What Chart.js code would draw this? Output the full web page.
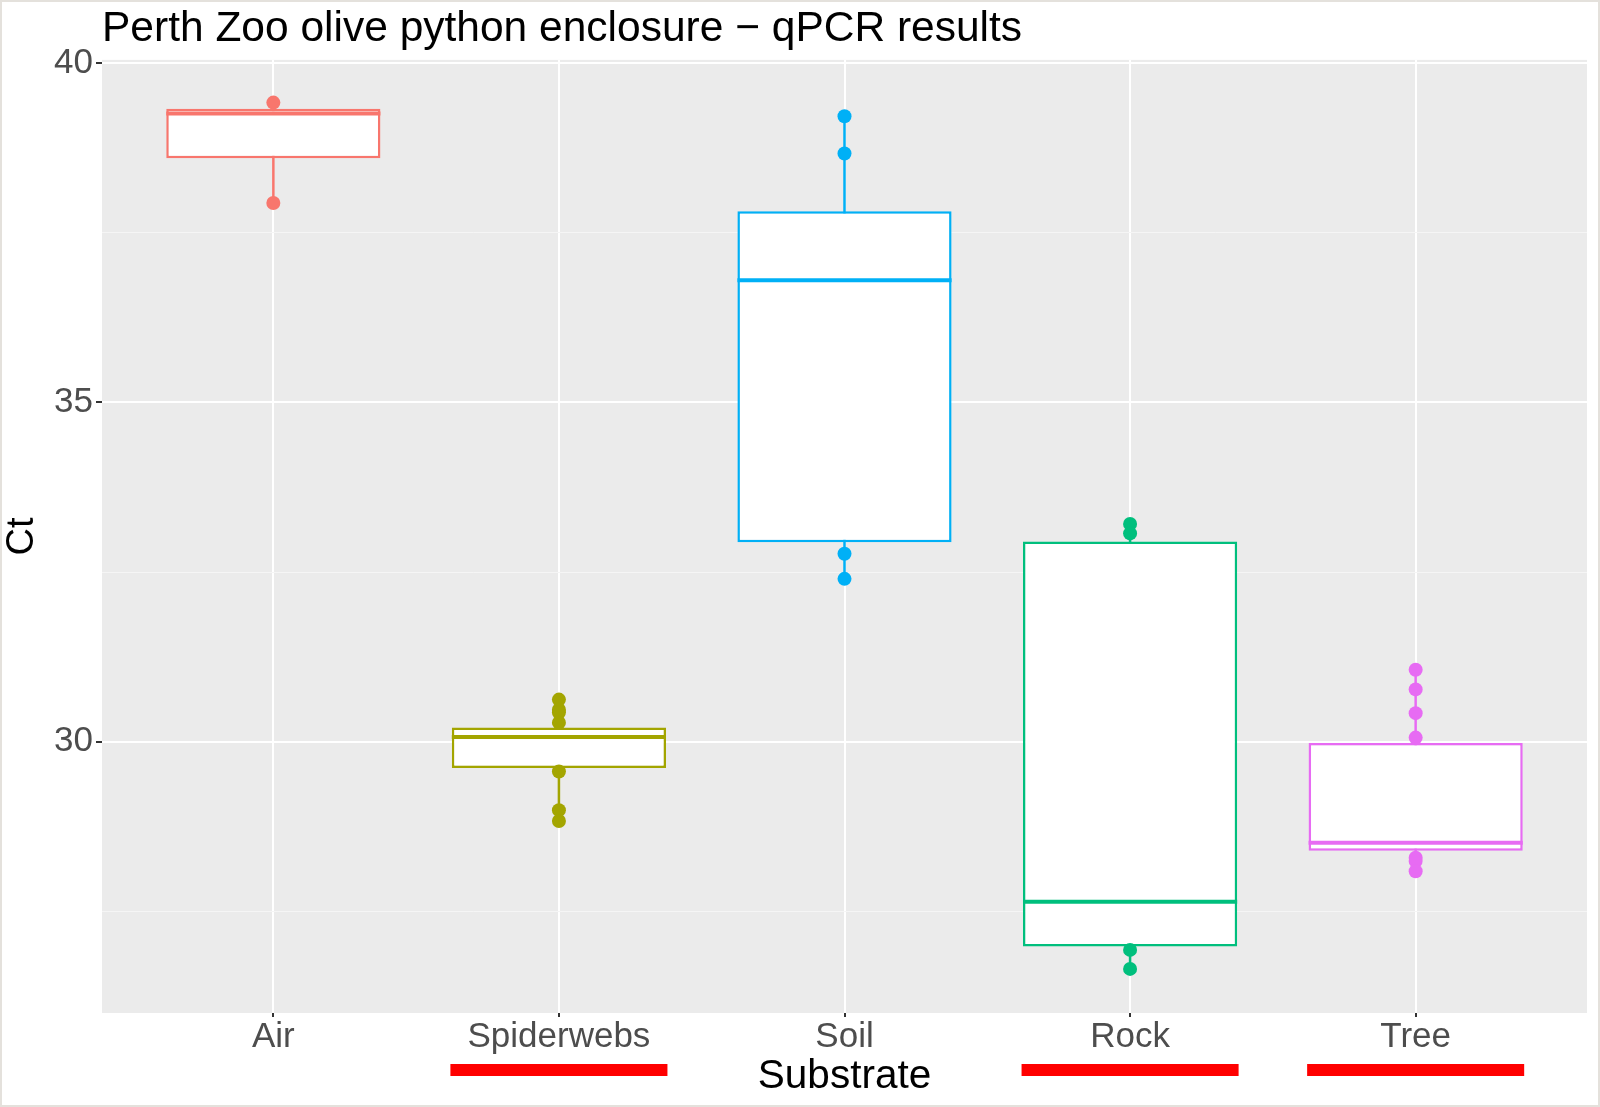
<!DOCTYPE html>
<html lang="en">
  <head>
    <meta charset="UTF-8" />
    <title>Perth Zoo olive python enclosure - qPCR results</title>
    <script src="https://cdn.jsdelivr.net/npm/chart.js"></script>
    <style>
      html, body { margin: 0; padding: 0; background: #ffffff; }
      #wrap { position: relative; width: 1600px; height: 1107px; }
    </style>
  </head>
  <body>
    <div id="wrap"><canvas id="qpcrChart"></canvas></div>

    <script>
      // values (Ct)
      const CATEGORIES = ["Air", "Spiderwebs", "Soil", "Rock", "Tree"];
      const Q1 = [38.6, 29.61, 32.94, 26.98, 28.39];
      const MEDIAN = [39.26, 30.07, 36.8, 27.64, 28.51];
      const Q3 = [39.33, 30.21, 37.82, 32.95, 29.98];

      const AIR_CT = [39.42, 37.94];
      const SPIDERWEBS_CT = [30.62, 30.47, 30.43, 30.28, 29.56, 28.99, 28.83];
      const SOIL_CT = [39.22, 38.67, 32.77, 32.4];
      const ROCK_CT = [33.21, 33.07, 26.93, 26.65];
      const TREE_CT = [31.06, 30.77, 30.42, 30.06, 28.29, 28.24, 28.09];
      const POINTS = [AIR_CT, SPIDERWEBS_CT, SOIL_CT, ROCK_CT, TREE_CT];

      const Y_TICKS = [27.5, 30, 32.5, 35, 37.5, 40];
      const Y_MAJOR = [30, 35, 40];
      const HIGHLIGHTED = ["Spiderwebs", "Rock", "Tree"];

      const COLORS = ["#F8766D", "#A3A500", "#00B0F6", "#00BF7D", "#E76BF3"];
      const BOX_HALF = 0.375;
      const FONT = "'Liberation Sans', Arial, Helvetica, sans-serif";

      const datasets = [];

      // dots on top
      POINTS.forEach((pts, i) => {
        datasets.push({
          type: "scatter",
          data: pts.map((v) => ({ x: i + 1, y: v })),
          backgroundColor: COLORS[i],
          pointRadius: 7,
          pointBorderWidth: 0,
          order: 0,
        });
      });

      // median lines
      MEDIAN.forEach((m, i) => {
        datasets.push({
          type: "line",
          data: [
            { x: i + 1 - BOX_HALF, y: m },
            { x: i + 1 + BOX_HALF, y: m },
          ],
          borderColor: COLORS[i],
          borderWidth: 4,
          pointRadius: 0,
          order: 1,
        });
      });

      // boxes
      datasets.push({
        type: "bar",
        data: CATEGORIES.map((c, i) => ({ x: i + 1, y: [Q1[i], Q3[i]] })),
        backgroundColor: "#FFFFFF",
        borderColor: COLORS,
        borderWidth: 2.5,
        borderSkipped: false,
        barPercentage: 0.75,
        categoryPercentage: 1,
        order: 2,
      });

      // whiskers (under the boxes)
      POINTS.forEach((pts, i) => {
        const lo = Math.min(Q1[i], ...pts);
        const hi = Math.max(Q3[i], ...pts);
        datasets.push({
          type: "line",
          data: [
            { x: i + 1, y: lo },
            { x: i + 1, y: hi },
          ],
          borderColor: COLORS[i],
          borderWidth: 2.5,
          pointRadius: 0,
          order: 3,
        });
      });

      // grey panel + light frame
      const panelBg = {
        id: "panelBg",
        beforeDraw(chart) {
          const { ctx, chartArea: a, width, height } = chart;
          ctx.save();
          ctx.fillStyle = "#FFFFFF";
          ctx.fillRect(0, 0, width, height);
          ctx.fillStyle = "#EBEBEB";
          ctx.fillRect(a.left, a.top, a.right - a.left, a.bottom - a.top);
          ctx.strokeStyle = "#E4E1DC";
          ctx.lineWidth = 2;
          ctx.strokeRect(1, 1, width - 2, height - 2);
          ctx.restore();
        },
      };

      // red underlines below some substrates
      const underline = {
        id: "underline",
        afterDraw(chart) {
          const { ctx, chartArea: a } = chart;
          const x = chart.scales.x;
          ctx.save();
          ctx.fillStyle = "#FF0000";
          HIGHLIGHTED.forEach((name) => {
            const i = CATEGORIES.indexOf(name) + 1;
            const l = x.getPixelForValue(i - 0.38);
            const r = x.getPixelForValue(i + 0.38);
            ctx.fillRect(l, a.bottom + 51, r - l, 12);
          });
          ctx.restore();
        },
      };

      new Chart(document.getElementById("qpcrChart"), {
        type: "bar",
        data: { datasets: datasets },
        plugins: [panelBg, underline],
        options: {
          responsive: true,
          maintainAspectRatio: false,
          animation: false,
          layout: { padding: { left: 0, right: 13, top: 0, bottom: 0 } },
          plugins: {
            legend: { display: false },
            tooltip: { enabled: false },
            title: {
              display: true,
              text: "Perth Zoo olive python enclosure \u2212 qPCR results",
              align: "start",
              fullSize: false,
              color: "#000000",
              font: { family: FONT, size: 42.5, weight: "normal", lineHeight: 1.15 },
              padding: { top: 5, bottom: 6 },
            },
          },
          scales: {
            x: {
              type: "linear",
              min: 0.4,
              max: 5.6,
              offset: false,
              afterBuildTicks: (s) => {
                s.ticks = CATEGORIES.map((c, i) => ({ value: i + 1 }));
              },
              afterFit: (s) => {
                s.height = 94;
              },
              ticks: {
                autoSkip: false,
                maxRotation: 0,
                padding: -1,
                color: "#4D4D4D",
                font: { family: FONT, size: 35 },
                callback: (v) => CATEGORIES[v - 1],
              },
              grid: {
                offset: false,
                color: "#FFFFFF",
                lineWidth: 2,
                tickColor: "#333333",
                tickLength: 4,
              },
              border: { display: false },
              title: {
                display: true,
                text: "Substrate",
                color: "#000000",
                font: { family: FONT, size: 40.5 },
                padding: { top: 0, bottom: 6 },
              },
            },
            y: {
              type: "linear",
              min: 26.0,
              max: 40.05,
              afterBuildTicks: (s) => {
                s.ticks = Y_TICKS.map((v) => ({ value: v }));
              },
              afterFit: (s) => {
                s.width = 102;
              },
              ticks: {
                padding: 3,
                color: "#4D4D4D",
                font: { family: FONT, size: 35 },
                callback: (v) => (Y_MAJOR.includes(v) ? v : ""),
              },
              grid: {
                color: (c) =>
                  c.tick && Y_MAJOR.includes(c.tick.value) ? "#FFFFFF" : "#F5F5F5",
                lineWidth: (c) =>
                  c.tick && Y_MAJOR.includes(c.tick.value) ? 2 : 1,
                tickColor: (c) =>
                  c.tick && Y_MAJOR.includes(c.tick.value)
                    ? "#333333"
                    : "rgba(0,0,0,0)",
                tickLength: 6,
              },
              border: { display: false },
              title: {
                display: true,
                text: "Ct",
                color: "#000000",
                font: { family: FONT, size: 38 },
                padding: { top: 0, bottom: 0 },
              },
            },
          },
        },
      });
    </script>
  </body>
</html>
